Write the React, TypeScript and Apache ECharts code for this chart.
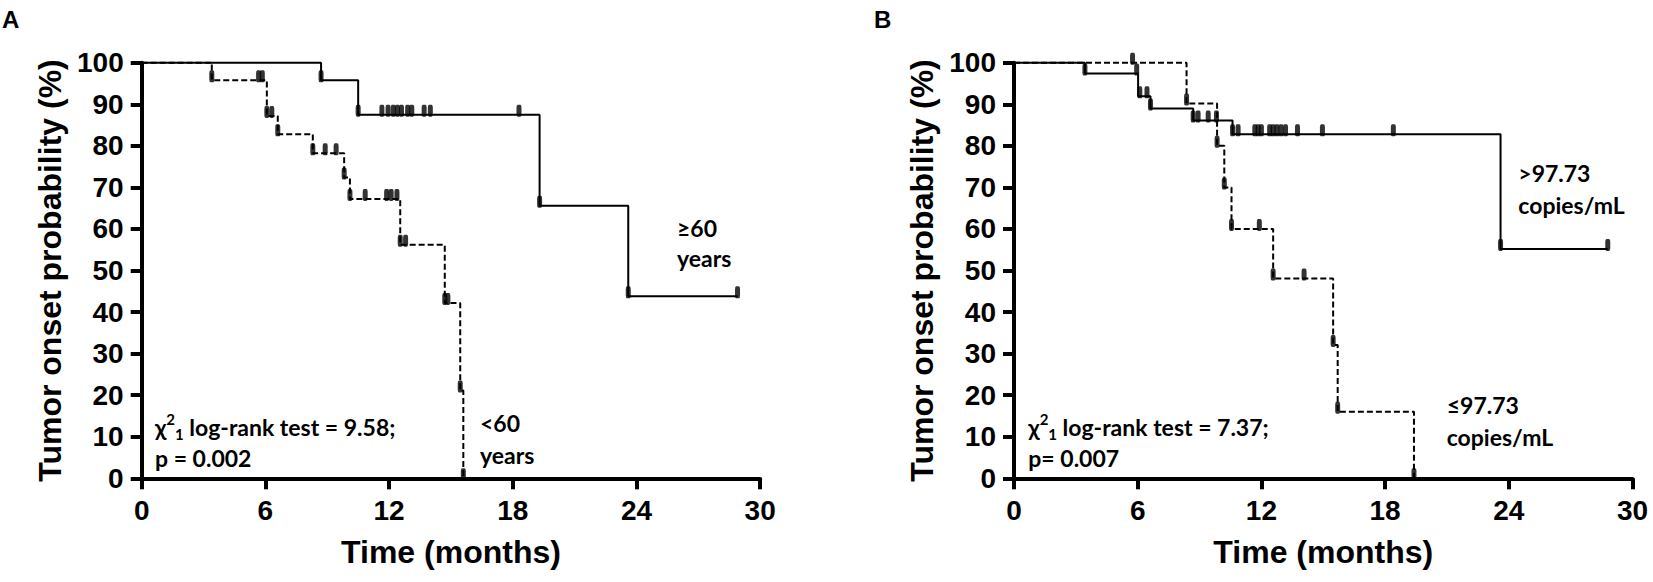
import React, { useEffect, useRef } from "react";
import * as echarts from "echarts";

// ---------- Panel A: age ----------
const ageOldTimes = [0, 8.7, 10.5, 19.3, 23.6, 28.9];
const ageOldSurv = [100, 95.8, 87.5, 65.6, 43.8, 43.8];
const ageOldCensorTimes = [8.7, 10.5, 11.65, 11.95, 12.2, 12.4, 12.6, 12.9, 13.1, 13.7, 14.0, 18.3, 19.3, 23.6, 28.9];
const ageOldCensorSurv = [95.8, 87.5, 87.5, 87.5, 87.5, 87.5, 87.5, 87.5, 87.5, 87.5, 87.5, 87.5, 65.6, 43.8, 43.8];

const ageYoungTimes = [0, 3.4, 6.07, 6.6, 8.3, 9.82, 10.1, 12.54, 14.7, 15.45, 15.6];
const ageYoungSurv = [100, 95.8, 87.2, 82.8, 78.2, 72.4, 67.2, 56.2, 42.2, 21.1, 0];
const ageYoungCensorTimes = [3.4, 5.67, 5.85, 6.07, 6.31, 6.6, 8.3, 8.9, 9.43, 9.82, 10.1, 10.84, 11.88, 12.1, 12.38, 12.54, 12.8, 14.7, 14.85, 15.45, 15.6];
const ageYoungCensorSurv = [95.8, 95.8, 95.8, 87.2, 87.2, 82.8, 78.2, 78.2, 78.2, 72.4, 67.2, 67.2, 67.2, 67.2, 67.2, 56.2, 56.2, 42.2, 42.2, 21.1, 0];

// ---------- Panel B: copies/mL ----------
const highTimes = [0, 3.44, 6.02, 6.62, 8.69, 10.6, 23.6, 28.8];
const highSurv = [100, 97.4, 91.9, 89.0, 86.1, 82.8, 55.2, 55.2];
const highCensorTimes = [3.44, 5.95, 6.1, 6.45, 6.62, 8.69, 8.93, 9.42, 9.82, 10.6, 10.87, 11.68, 11.84, 12.0, 12.4, 12.57, 12.75, 12.95, 13.17, 13.75, 14.96, 18.4, 23.6, 28.8];
const highCensorSurv = [97.4, 97.4, 91.9, 91.9, 89.0, 86.1, 86.1, 86.1, 86.1, 82.8, 82.8, 82.8, 82.8, 82.8, 82.8, 82.8, 82.8, 82.8, 82.8, 82.8, 82.8, 82.8, 55.2, 55.2];

const lowTimes = [0, 8.37, 9.85, 10.2, 10.55, 12.57, 15.48, 15.7, 19.4];
const lowSurv = [100, 90.2, 80, 70, 60, 48.1, 32.1, 16.0, 0];
const lowCensorTimes = [5.75, 8.37, 9.85, 10.2, 10.55, 11.9, 12.57, 14.07, 15.48, 15.7, 19.4];
const lowCensorSurv = [100, 90.2, 80, 70, 60, 60, 48.1, 48.1, 32.1, 16.0, 0];

const xTitle = "Time (months)";
const yTitle = "Tumor onset probability (%)";

const FONT_AXIS = '"Liberation Sans", Arial, Helvetica, sans-serif';
const FONT_NOTE = 'Lato, "Open Sans", sans-serif';

function pairs(xs: number[], ys: number[]) {
  return xs.map((x, i) => [x, ys[i]]);
}

function makeX(gridIndex: number) {
  return {
    type: "value",
    gridIndex,
    min: 0,
    max: 30,
    interval: 6,
    axisLine: { show: true, onZero: false, lineStyle: { color: "#000", width: 4 } },
    axisTick: { show: true, length: 11, lineStyle: { color: "#000", width: 4 } },
    axisLabel: { fontSize: 28, fontWeight: "bold", fontFamily: FONT_AXIS, color: "#000", margin: 18 },
    splitLine: { show: false },
    name: xTitle,
    nameLocation: "middle",
    nameGap: 58,
    nameTextStyle: { fontSize: 32, fontWeight: "bold", fontFamily: FONT_AXIS, color: "#000" },
  };
}

function makeY(gridIndex: number) {
  return {
    type: "value",
    gridIndex,
    min: 0,
    max: 100,
    interval: 10,
    axisLine: { show: true, onZero: false, lineStyle: { color: "#000", width: 4 } },
    axisTick: { show: true, length: 11, lineStyle: { color: "#000", width: 4 } },
    axisLabel: { fontSize: 28, fontWeight: "bold", fontFamily: FONT_AXIS, color: "#000", margin: 18 },
    splitLine: { show: false },
    name: yTitle,
    nameLocation: "middle",
    nameGap: 76,
    nameTextStyle: { fontSize: 32, fontWeight: "bold", fontFamily: FONT_AXIS, color: "#000" },
  };
}

function stepLine(idx: number, xs: number[], ys: number[], dashed: boolean) {
  return {
    type: "line",
    xAxisIndex: idx,
    yAxisIndex: idx,
    step: "end",
    symbol: "none",
    clip: false,
    data: pairs(xs, ys),
    lineStyle: { color: "#000", width: 2, type: dashed ? [6, 3] : "solid" },
    z: 3,
  };
}

function censor(idx: number, xs: number[], ys: number[]) {
  return {
    type: "scatter",
    xAxisIndex: idx,
    yAxisIndex: idx,
    clip: false,
    symbol: "roundRect",
    symbolSize: [5, 12],
    symbolOffset: [0, -4],
    itemStyle: { color: "#000" },
    data: pairs(xs, ys),
    z: 4,
  };
}

const noteStyle = { fontSize: 23, fontWeight: "bold", fontFamily: FONT_NOTE, fill: "#000" };

function note(x: number, y: number, text: string) {
  return { type: "text", x, y, style: { ...noteStyle, text, align: "left", verticalAlign: "middle" } };
}

function chiNote(x: number, y: number, rest: string) {
  return {
    type: "text",
    x,
    y,
    style: {
      text: "{a|χ}{sup|2}{sub|1}{a|" + rest + "}",
      align: "left",
      verticalAlign: "middle",
      rich: {
        a: { fontSize: 23, fontWeight: "bold", fontFamily: FONT_NOTE, fill: "#000", color: "#000", lineHeight: 30, verticalAlign: "middle" },
        sup: { fontSize: 15, fontWeight: "bold", fontFamily: FONT_NOTE, fill: "#000", color: "#000", lineHeight: 17, verticalAlign: "top" },
        sub: { fontSize: 15, fontWeight: "bold", fontFamily: FONT_NOTE, fill: "#000", color: "#000", lineHeight: 22, verticalAlign: "bottom" },
      },
    },
  };
}

export default function App() {
  const ref = useRef<HTMLDivElement>(null);
  useEffect(() => {
    if (!ref.current) return;
    const chart = echarts.init(ref.current, undefined, { renderer: "svg" });
    chart.setOption({
      animation: false,
      backgroundColor: "#fff",
      grid: [
        { left: 141.7, top: 62.7, width: 618.5, height: 415.6 },
        { left: 1014, top: 62.7, width: 618.5, height: 415.6 },
      ],
      xAxis: [makeX(0), makeX(1)],
      yAxis: [makeY(0), makeY(1)],
      series: [
        stepLine(0, ageOldTimes, ageOldSurv, false),
        censor(0, ageOldCensorTimes, ageOldCensorSurv),
        stepLine(0, ageYoungTimes, ageYoungSurv, true),
        censor(0, ageYoungCensorTimes, ageYoungCensorSurv),
        stepLine(1, highTimes, highSurv, false),
        censor(1, highCensorTimes, highCensorSurv),
        stepLine(1, lowTimes, lowSurv, true),
        censor(1, lowCensorTimes, lowCensorSurv),
      ],
      graphic: [
        { type: "text", x: 2, y: 7, style: { text: "A", fontSize: 24, fontWeight: "bold", fontFamily: FONT_AXIS, fill: "#000", align: "left", verticalAlign: "top" } },
        { type: "text", x: 874, y: 7, style: { text: "B", fontSize: 24, fontWeight: "bold", fontFamily: FONT_AXIS, fill: "#000", align: "left", verticalAlign: "top" } },
        chiNote(155, 426.7, " log-rank test = 9.58;"),
        note(155, 458.3, "p = 0.002"),
        note(677, 228.3, "≥60"),
        note(677, 258.3, "years"),
        note(480, 423.3, "<60"),
        note(480, 455, "years"),
        chiNote(1028.3, 426.7, " log-rank test = 7.37;"),
        note(1028.3, 458.3, "p= 0.007"),
        note(1518.3, 173.3, ">97.73"),
        note(1518.3, 205, "copies/mL"),
        note(1446.7, 405, "≤97.73"),
        note(1446.7, 436.7, "copies/mL"),
      ],
    });
    return () => chart.dispose();
  }, []);
  return (
    <div
      ref={ref}
      style={{ position: "absolute", left: 0, top: 0, width: 1653, height: 582, background: "#fff" }}
    />
  );
}
